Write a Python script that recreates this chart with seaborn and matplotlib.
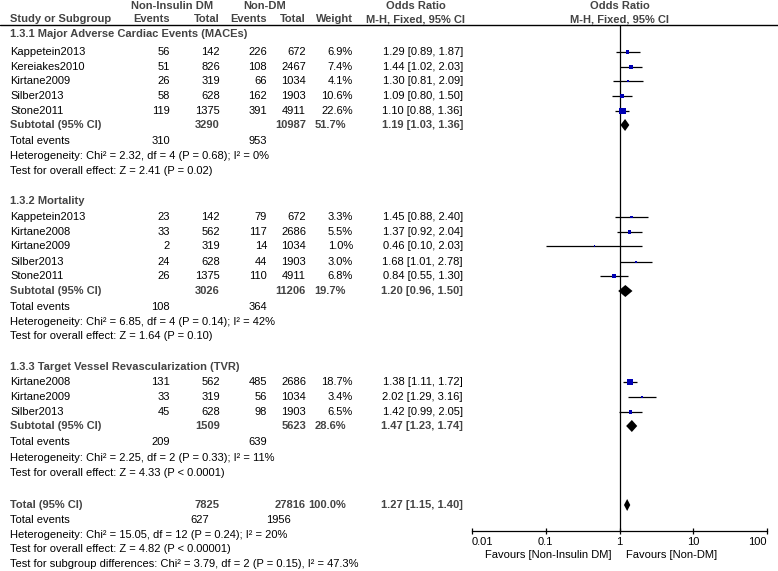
#!/usr/bin/env python3

import numpy as np
import pandas as pd
import matplotlib
matplotlib.use("Agg")
from matplotlib import pyplot as plt
import seaborn as sns

sns.set_style("white")
plt.rcParams['font.family'] = ['Liberation Sans', 'DejaVu Sans']

# ---- data -------------------------------------------------------------
group_titles = ["1.3.1 Major Adverse Cardiac Events (MACEs)",
                "1.3.2 Mortality",
                "1.3.3 Target Vessel Revascularization (TVR)"]

mace_study = ["Kappetein2013", "Kereiakes2010", "Kirtane2009", "Silber2013", "Stone2011"]
mace_ev_ni = [56, 51, 26, 58, 119]
mace_tot_ni = [142, 826, 319, 628, 1375]
mace_ev_nd = [226, 108, 66, 162, 391]
mace_tot_nd = [672, 2467, 1034, 1903, 4911]
mace_weight = [6.9, 7.4, 4.1, 10.6, 22.6]
mace_or = [1.29, 1.44, 1.30, 1.09, 1.10]
mace_lo = [0.89, 1.02, 0.81, 0.80, 0.88]
mace_hi = [1.87, 2.03, 2.09, 1.50, 1.36]

mort_study = ["Kappetein2013", "Kirtane2008", "Kirtane2009", "Silber2013", "Stone2011"]
mort_ev_ni = [23, 33, 2, 24, 26]
mort_tot_ni = [142, 562, 319, 628, 1375]
mort_ev_nd = [79, 117, 14, 44, 110]
mort_tot_nd = [672, 2686, 1034, 1903, 4911]
mort_weight = [3.3, 5.5, 1.0, 3.0, 6.8]
mort_or = [1.45, 1.37, 0.46, 1.68, 0.84]
mort_lo = [0.88, 0.92, 0.10, 1.01, 0.55]
mort_hi = [2.40, 2.04, 2.03, 2.78, 1.30]

tvr_study = ["Kirtane2008", "Kirtane2009", "Silber2013"]
tvr_ev_ni = [131, 33, 45]
tvr_tot_ni = [562, 319, 628]
tvr_ev_nd = [485, 56, 98]
tvr_tot_nd = [2686, 1034, 1903]
tvr_weight = [18.7, 3.4, 6.5]
tvr_or = [1.38, 2.02, 1.42]
tvr_lo = [1.11, 1.29, 0.99]
tvr_hi = [1.72, 3.16, 2.05]

sub_tot_ni = [3290, 3026, 1509]
sub_tot_nd = [10987, 11206, 5623]
sub_weight = [51.7, 19.7, 28.6]
sub_or = [1.19, 1.20, 1.47]
sub_lo = [1.03, 0.96, 1.23]
sub_hi = [1.36, 1.50, 1.74]
sub_ev_ni = [310, 108, 209]
sub_ev_nd = [953, 364, 639]
sub_het = ["Heterogeneity: Chi\u00b2 = 2.32, df = 4 (P = 0.68); I\u00b2 = 0%",
           "Heterogeneity: Chi\u00b2 = 6.85, df = 4 (P = 0.14); I\u00b2 = 42%",
           "Heterogeneity: Chi\u00b2 = 2.25, df = 2 (P = 0.33); I\u00b2 = 11%"]
sub_test = ["Test for overall effect: Z = 2.41 (P = 0.02)",
            "Test for overall effect: Z = 1.64 (P = 0.10)",
            "Test for overall effect: Z = 4.33 (P < 0.0001)"]

total_tot_ni, total_tot_nd, total_weight = 7825, 27816, 100.0
total_or, total_lo, total_hi = 1.27, 1.15, 1.40
total_ev_ni, total_ev_nd = 627, 1956
total_het = "Heterogeneity: Chi\u00b2 = 15.05, df = 12 (P = 0.24); I\u00b2 = 20%"
total_test = "Test for overall effect: Z = 4.82 (P < 0.00001)"
subgroup_test = "Test for subgroup differences: Chi\u00b2 = 3.79, df = 2 (P = 0.15), I\u00b2 = 47.3%"

ticks = [0.01, 0.1, 1, 10, 100]
tick_labels = ["0.01", "0.1", "1", "10", "100"]

# ---- layout (pixel rows) ---------------------------------------------
head_y = [34, 201, 367]
study_y = [[52, 67, 81, 96, 111], [217, 232, 246, 262, 276], [382, 397, 412]]
sub_y = [125, 291, 426]
events_y = [141, 307, 442]
het_y = [156, 322, 458]
test_y = [171, 336, 473]
W, H = 778, 571
x_name, x_ev_ni, x_tot_ni, x_ev_nd, x_tot_nd, x_w, x_wb, x_or = 10, 170, 220, 267, 306, 353, 346, 463
x_all_ev_ni, x_all_ev_nd = 209, 291
axis_y, top_y = 531, 25
fs = 8
bold_c = "#444444"

groups = [
    (mace_study, mace_ev_ni, mace_tot_ni, mace_ev_nd, mace_tot_nd, mace_weight, mace_or, mace_lo, mace_hi),
    (mort_study, mort_ev_ni, mort_tot_ni, mort_ev_nd, mort_tot_nd, mort_weight, mort_or, mort_lo, mort_hi),
    (tvr_study, tvr_ev_ni, tvr_tot_ni, tvr_ev_nd, tvr_tot_nd, tvr_weight, tvr_or, tvr_lo, tvr_hi),
]

recs = []
for g, (st, eni, tni, end, tnd, w, o, lo, hi) in enumerate(groups):
    for i in range(len(st)):
        recs.append(dict(group=g, study=st[i], ev_ni=eni[i], tot_ni=tni[i], ev_nd=end[i],
                         tot_nd=tnd[i], weight=w[i], OR=o[i], lo=lo[i], hi=hi[i],
                         y=study_y[g][i]))
studies = pd.DataFrame.from_records(recs)

fig = plt.figure(figsize=(W / 100, H / 100), dpi=100)
ax = fig.add_axes([0, 0, 1, 1])
ax.set_xlim(0, W)
ax.set_ylim(H, 0)
ax.axis('off')


def txt(x, y, s, ha='left', bold=False):
    ax.text(x, y, s, ha=ha, va='center', fontsize=fs,
            fontweight='bold' if bold else 'normal',
            color=bold_c if bold else 'black')


# headers
txt(172, 6, "Non-Insulin DM", ha='center', bold=True)
txt(265, 6, "Non-DM", ha='center', bold=True)
txt(416, 6, "Odds Ratio", ha='center', bold=True)
txt(620, 6, "Odds Ratio", ha='center', bold=True)
txt(x_name, 19, "Study or Subgroup", bold=True)
txt(x_ev_ni, 19, "Events", ha='right', bold=True)
txt(x_tot_ni, 19, "Total", ha='right', bold=True)
txt(x_ev_nd, 19, "Events", ha='right', bold=True)
txt(x_tot_nd, 19, "Total", ha='right', bold=True)
txt(x_w, 19, "Weight", ha='right', bold=True)
txt(416, 19, "M-H, Fixed, 95% CI", ha='center', bold=True)
txt(620, 19, "M-H, Fixed, 95% CI", ha='center', bold=True)
ax.plot([0, W], [top_y, top_y], color='black', lw=1.0)

# study rows
for _, r in studies.iterrows():
    txt(x_name, r.y, r.study)
    txt(x_ev_ni, r.y, f"{r.ev_ni}", ha='right')
    txt(x_tot_ni, r.y, f"{r.tot_ni}", ha='right')
    txt(x_ev_nd, r.y, f"{r.ev_nd}", ha='right')
    txt(x_tot_nd, r.y, f"{r.tot_nd}", ha='right')
    txt(x_w, r.y, f"{r.weight:.1f}%", ha='right')
    txt(x_or, r.y, f"{r.OR:.2f} [{r.lo:.2f}, {r.hi:.2f}]", ha='right')

# subgroup rows
for g in range(3):
    txt(x_name, head_y[g], group_titles[g], bold=True)
    y = sub_y[g]
    txt(x_name, y, "Subtotal (95% CI)", bold=True)
    txt(x_tot_ni, y, f"{sub_tot_ni[g]}", ha='right', bold=True)
    txt(x_tot_nd, y, f"{sub_tot_nd[g]}", ha='right', bold=True)
    txt(x_wb, y, f"{sub_weight[g]:.1f}%", ha='right', bold=True)
    txt(x_or, y, f"{sub_or[g]:.2f} [{sub_lo[g]:.2f}, {sub_hi[g]:.2f}]", ha='right', bold=True)
    txt(x_name, events_y[g], "Total events")
    txt(x_ev_ni, events_y[g], f"{sub_ev_ni[g]}", ha='right')
    txt(x_ev_nd, events_y[g], f"{sub_ev_nd[g]}", ha='right')
    txt(x_name, het_y[g], sub_het[g])
    txt(x_name, test_y[g], sub_test[g])

# overall rows
txt(x_name, 505, "Total (95% CI)", bold=True)
txt(x_tot_ni, 505, f"{total_tot_ni}", ha='right', bold=True)
txt(x_tot_nd, 505, f"{total_tot_nd}", ha='right', bold=True)
txt(x_wb, 505, f"{total_weight:.1f}%", ha='right', bold=True)
txt(x_or, 505, f"{total_or:.2f} [{total_lo:.2f}, {total_hi:.2f}]", ha='right', bold=True)
txt(x_name, 520, "Total events")
txt(x_all_ev_ni, 520, f"{total_ev_ni}", ha='right')
txt(x_all_ev_nd, 520, f"{total_ev_nd}", ha='right')
txt(x_name, 535, total_het)
txt(x_name, 549, total_test)
txt(x_name, 564, subgroup_test)

txt(612, 555, "Favours [Non-Insulin DM]", ha='right')
txt(626, 555, "Favours [Non-DM]")

# ---- forest panel -----------------------------------------------------
x0, x1 = 472, 767
fx = fig.add_axes([x0 / W, (H - axis_y) / H, (x1 - x0) / W, (axis_y - top_y) / H])
fx.patch.set_visible(False)
fx.set_xscale('log')
fx.set_xlim(0.01, 100)
fx.set_ylim(axis_y, top_y)

fx.axvline(1, color='black', lw=0.9, zorder=1)
fx.hlines(studies['y'], studies['lo'], studies['hi'], color='black', lw=0.9, zorder=2)
sns.scatterplot(data=studies, x='OR', y='y', size='weight', sizes=(0, 22),
                size_norm=(0, 22.6), marker='s', color='#0000b4', linewidth=0,
                legend=False, ax=fx, zorder=3)

dh = 6
for g in range(3):
    y = sub_y[g]
    fx.fill([sub_lo[g], sub_or[g], sub_hi[g], sub_or[g]], [y, y - dh, y, y + dh],
            color='black', lw=0, zorder=3)
fx.fill([total_lo, total_or, total_hi, total_or], [505, 505 - dh, 505, 505 + dh],
        color='black', lw=0, zorder=3)

for s in ['left', 'right', 'top']:
    fx.spines[s].set_visible(False)
fx.spines['bottom'].set_color('black')
fx.spines['bottom'].set_linewidth(0.9)
fx.set_yticks([])
fx.set_xticks(ticks)
fx.set_xticklabels(tick_labels)
fx.minorticks_off()
fx.tick_params(axis='x', direction='inout', length=5, width=0.9, pad=1.5,
               labelsize=fs, bottom=True, colors='black')
labs = fx.get_xticklabels()
labs[0].set_ha('left')
labs[-1].set_ha('right')
fx.set_xlabel('')
fx.set_ylabel('')

fig.savefig('out.png', dpi=100)
